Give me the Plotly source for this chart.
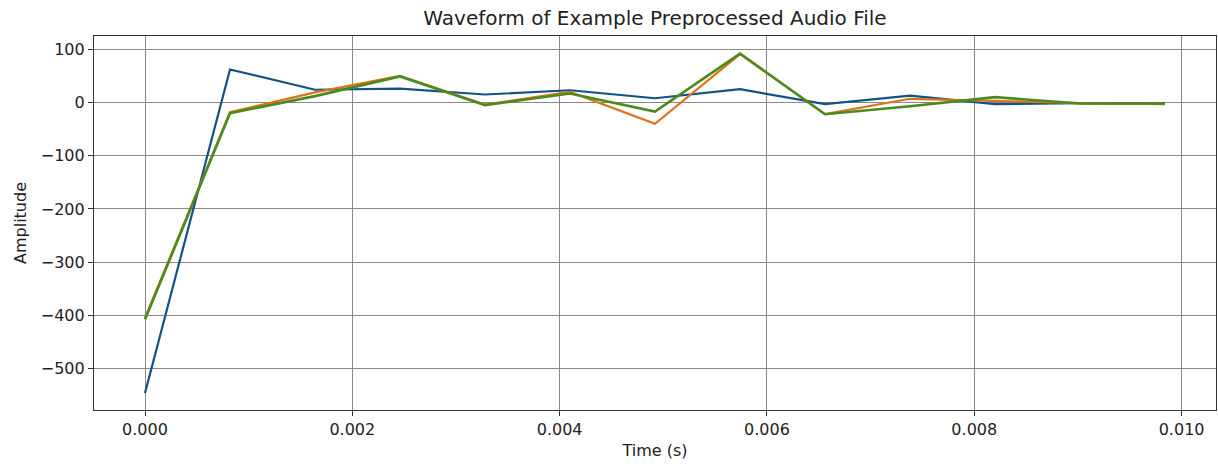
import plotly.graph_objects as go

time_s = [0.0, 0.00082, 0.00164, 0.00246, 0.00328, 0.0041, 0.00492,
          0.00574, 0.00656, 0.00738, 0.0082, 0.00902, 0.00984]
series_a = [-546, 62, 24, 26, 15, 23, 8, 25, -3, 13, -3, -1, -2]
series_b = [-405, -18, 19, 50, -4, 20, -40, 91, -22, 7, 3, -1, -3]
series_c = [-408, -20, 12, 49, -5, 17, -17, 92, -22, -7, 10, -2, -2]

colors = ["#115287", "#dc7416", "#4a8b1f"]
widths = [2.2, 2.2, 2.6]

fig = go.Figure()
for ys, c, w in zip([series_a, series_b, series_c], colors, widths):
    fig.add_trace(go.Scatter(x=time_s, y=ys, mode="lines",
                             line=dict(color=c, width=w), showlegend=False))

axis_common = dict(showline=True, linecolor="#3a3232", linewidth=1.2, mirror=True,
                   showgrid=True, gridcolor="#8e8787", gridwidth=1,
                   ticks="outside", ticklen=5, tickcolor="#3a3232",
                   zeroline=False, tickfont=dict(size=16, color="#222"))

fig.update_layout(
    width=1218, height=464,
    margin=dict(l=94, r=2, t=36, b=54),
    paper_bgcolor="white", plot_bgcolor="white",
    font=dict(family="DejaVu Sans", color="#222"),
    title=dict(text="Waveform of Example Preprocessed Audio File",
               xref="paper", x=0.5, xanchor="center", y=0.962, yanchor="middle",
               font=dict(size=20, color="#222")),
    xaxis=dict(range=[-0.000492, 0.010332], tickvals=[0, 0.002, 0.004, 0.006, 0.008, 0.010],
               ticktext=["0.000", "0.002", "0.004", "0.006", "0.008", "0.010"],
               title=dict(text="Time (s)", font=dict(size=16), standoff=6), **axis_common),
    yaxis=dict(range=[-578, 125], tickvals=[100, 0, -100, -200, -300, -400, -500],
               ticktext=["100", "0", "\u2212100", "\u2212200", "\u2212300", "\u2212400", "\u2212500"],
               title=dict(text="Amplitude", font=dict(size=16), standoff=10), **axis_common),
)

fig.write_html("out.html")
